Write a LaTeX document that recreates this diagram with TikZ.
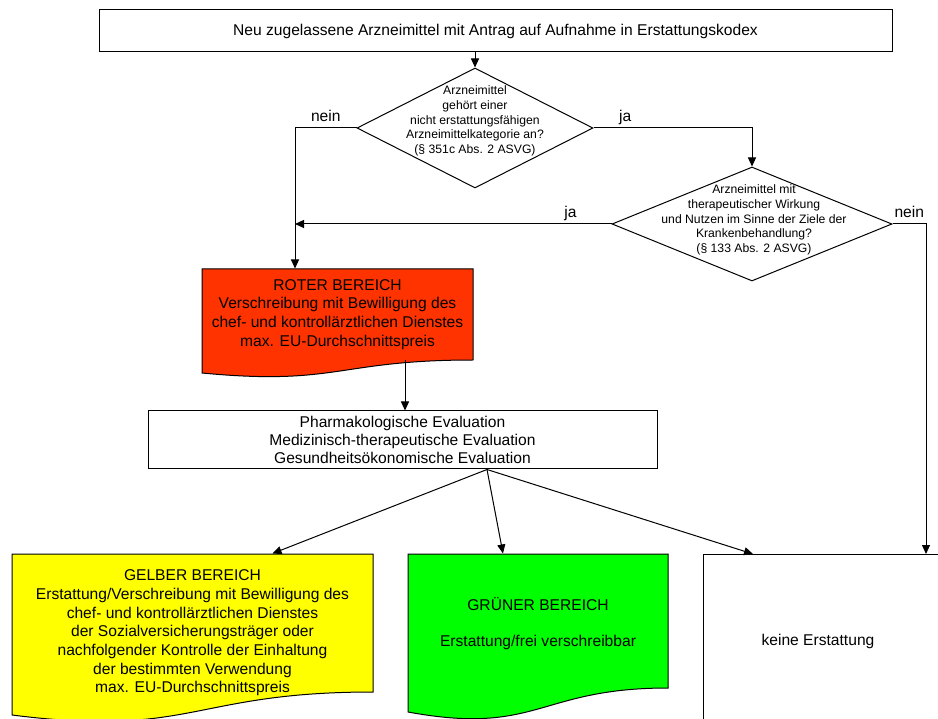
\documentclass[tikz,border=0pt]{standalone}
\usepackage{fontspec}
\setmainfont{Liberation Sans}
\usetikzlibrary{shapes.geometric,arrows.meta}

\definecolor{rotbereich}{RGB}{255,51,0}
\definecolor{gelbbereich}{RGB}{255,255,0}
\definecolor{gruenbereich}{RGB}{0,255,0}

\begin{document}
\begin{tikzpicture}[x=1pt, y=-1pt, line width=1pt,
                      pfeil/.style={-{Triangle[length=9pt,width=8pt]}},
                      kasten/.style={draw, rectangle, inner sep=0pt, align=center, font=\fontsize{15.6}{17.6}\selectfont},
                      bereich/.style={rectangle, inner sep=0pt, align=center, font=\fontsize{15.6}{18.7}\selectfont},
                      raute/.style={draw, diamond, inner sep=0pt},
                      rautentext/.style={inner sep=0pt, align=center, font=\fontsize{12.2}{14.6}\selectfont},
                      marke/.style={inner sep=0pt, text depth=0pt, font=\fontsize{15.6}{18.7}\selectfont}]

                      \clip (0,0) rectangle (938,719);

                      \draw[fill=rotbereich] (202,269) -- (473,269) -- (473,360) .. controls (337.5,360) and (337.5,386) .. (202,373) -- cycle;
                      \draw[fill=gelbbereich] (12,554) -- (373,554) -- (373,692) .. controls (192.5,692) and (192.5,738) .. (12,715) -- cycle;
                      \draw[fill=gruenbereich] (408,554) -- (668,554) -- (668,688) .. controls (538,688) and (538,736) .. (408,712) -- cycle;

                      \node[kasten, minimum width=793, minimum height=42] (start) at (495.5,31) {Neu zugelassene Arzneimittel mit Antrag auf Aufnahme in Erstattungskodex};

                      \node[raute, minimum width=236, minimum height=120] (frage1) at (475,128) {};
                      \node[rautentext] (frage1text) at (475,121) {Arzneimittel\\gehört einer\\nicht erstattungsfähigen\\Arzneimittelkategorie an?\\(§ 351c Abs. 2 ASVG)};

                      \node[raute, minimum width=280, minimum height=114] (frage2) at (752,224) {};
                      \node[rautentext] (frage2text) at (754,220) {Arzneimittel mit\\therapeutischer Wirkung\\und Nutzen im Sinne der Ziele der\\Krankenbehandlung?\\(§ 133 Abs. 2 ASVG)};

                      \node[bereich, minimum width=271, minimum height=91] (rot) at (337.5,314.5) {ROTER BEREICH\\Verschreibung mit Bewilligung des\\chef- und kontrollärztlichen Dienstes\\max. EU-Durchschnittspreis};

                      \node[kasten, minimum width=509, minimum height=58] (eval) at (402.5,440) {Pharmakologische Evaluation\\Medizinisch-therapeutische Evaluation\\Gesundheitsökonomische Evaluation};

                      \node[bereich, minimum width=361, minimum height=158] (gelb) at (192.5,633) {GELBER BEREICH\\Erstattung/Verschreibung mit Bewilligung des\\chef- und kontrollärztlichen Dienstes\\der Sozialversicherungsträger oder\\nachfolgender Kontrolle der Einhaltung\\der bestimmten Verwendung\\max. EU-Durchschnittspreis};

                      \node[bereich, minimum width=260, minimum height=139] (gruen) at (538,623.5) {GRÜNER BEREICH\\[18pt]Erstattung/frei verschreibbar};

                      \node[kasten, minimum width=260, minimum height=200, anchor=north west] (keine) at (703,554) {};
                      \node[marke] (keinetext) at (818,640) {keine Erstattung};

                      \coordinate (neinecke) at (295,128);
                      \coordinate (neinecke2) at (926,224);
                      \coordinate (verzweigung) at ([xshift=84.5]eval.south);

                      \draw[pfeil] (start.south -| frage1.north) -- (frage1.north);
                      \draw[pfeil] (frage1.west) -- node[marke, above=6pt]{nein} (neinecke) -- (neinecke |- rot.north);
                      \draw[pfeil] (frage1.east) -| node[marke, above=6pt, pos=0.1]{ja} (frage2.north);
                      \draw[pfeil] (frage2.west) -- node[marke, above=6pt, pos=0.13]{ja} (frage2.west -| neinecke);
                      \draw[pfeil] (frage2.east) -- node[marke, above=6pt]{nein} (neinecke2) -- (neinecke2 |- keine.north);
                      \draw[pfeil] ([xshift=67.5]rot.south) -- ([xshift=67.5]rot.south |- eval.north);
                      \draw[pfeil] (verzweigung) -- ([xshift=80]gelb.north);
                      \draw[pfeil] (verzweigung) -- ([xshift=-35]gruen.north);
                      \draw[pfeil] (verzweigung) -- ([xshift=50]keine.north west);
\end{tikzpicture}
\end{document}
